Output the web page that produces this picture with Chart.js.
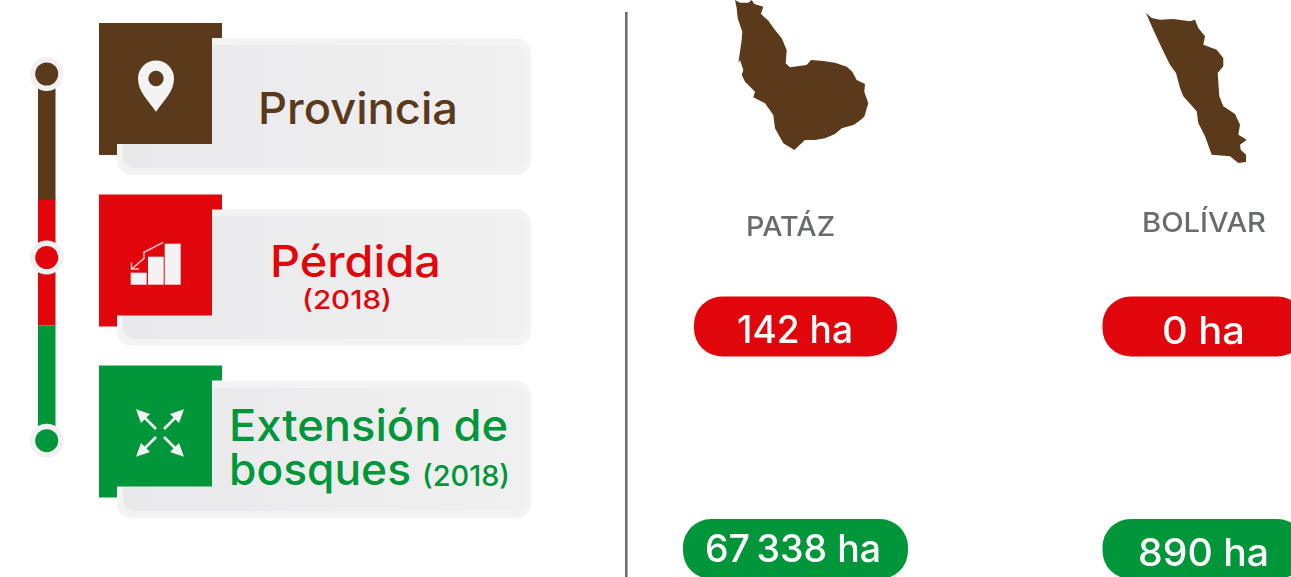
<!DOCTYPE html>
<html lang="es">
<head>
<meta charset="utf-8">
<title>Pérdida y extensión de bosques por provincia</title>
<script src="https://cdn.jsdelivr.net/npm/chart.js@4"></script>
<style>
    html, body { margin: 0; padding: 0; background: #fff; overflow: hidden; }
    #wrap { position: relative; width: 1291px; height: 577px; }
    #wrap svg, #wrap canvas { position: absolute; left: 0; top: 0; }
    svg text { font-family: Inter, "Noto Sans", sans-serif; font-weight: 550; }
</style>
</head>
<body>
<div id="wrap">
    <svg width="1291" height="577" viewBox="0 0 1291 577" xmlns="http://www.w3.org/2000/svg">
        <defs>
            <linearGradient id="fondoTarjeta" x1="0" y1="0" x2="1" y2="0">
                <stop offset="0" stop-color="#e9e8ea"/>
                <stop offset="1" stop-color="#f1f0f1"/>
            </linearGradient>
            <g id="tarjeta">
                <rect x="117" y="38" width="414" height="137" rx="15" fill="#f3f3f4"/>
                <rect x="123" y="45" width="402" height="123" rx="11" fill="url(#fondoTarjeta)"/>
            </g>
            <path id="bandera" d="M99 23H222V38H212V144H117V155H99Z"/>
            <g id="flecha" fill="#f3f3f4">
                <path d="M136 409.3L150 414L141 423Z"/>
                <path d="M144 417L156 429" stroke="#f3f3f4" stroke-width="2.6" fill="none"/>
            </g>
        </defs>

        <!-- barra lateral -->
        <rect x="38" y="74" width="17.5" height="126" fill="#5a3a1b"/>
        <rect x="38" y="199.6" width="17.5" height="126" fill="#e1060c"/>
        <rect x="38" y="325.6" width="17.5" height="115" fill="#009639"/>
        <circle cx="46.7" cy="74" r="17" fill="#f1f1f2"/>
        <circle cx="46.7" cy="74" r="11.5" fill="#5a3a1b"/>
        <circle cx="46.7" cy="257.5" r="17" fill="#f1f1f2"/>
        <circle cx="46.7" cy="257.5" r="11.5" fill="#e1060c"/>
        <circle cx="46.7" cy="440.7" r="17" fill="#f1f1f2"/>
        <circle cx="46.7" cy="440.7" r="11.5" fill="#009639"/>

        <!-- leyenda -->
        <use href="#tarjeta"/>
        <use href="#tarjeta" y="171"/>
        <use href="#tarjeta" y="343"/>
        <use href="#bandera" fill="#5a3a1b"/>
        <use href="#bandera" y="171.5" fill="#e1060c"/>
        <use href="#bandera" y="342.5" fill="#009639"/>

        <path d="M156 111.7C148 100 138 92 138 78.5A18 18 0 0 1 174 78.5C174 92 164 100 156 111.7Z" fill="#f3f3f4"/>
        <circle cx="156" cy="78.5" r="7.7" fill="#5a3a1b"/>

        <g fill="#f3f3f4">
            <rect x="130.7" y="272.7" width="16" height="12"/>
            <rect x="148" y="256.7" width="15.7" height="28"/>
            <rect x="164.7" y="243.7" width="16" height="41"/>
        </g>
        <path d="M163.3 242.3L144 252.3V258.3L131.7 269M131.5 262.5V269H139" stroke="#f6c3c4" stroke-width="1.5" fill="none"/>

        <use href="#flecha"/>
        <use href="#flecha" transform="translate(320 0) scale(-1 1)"/>
        <use href="#flecha" transform="translate(0 866) scale(1 -1)"/>
        <use href="#flecha" transform="translate(320 866) scale(-1 -1)"/>

        <text x="258" y="123.5" font-size="44" fill="#5a3a1b" textLength="200" lengthAdjust="spacingAndGlyphs">Provincia</text>
        <text x="270" y="277" font-size="44" fill="#e1060c" textLength="171" lengthAdjust="spacingAndGlyphs">Pérdida</text>
        <text x="302" y="309" font-size="26" fill="#e1060c" style="font-weight:500" textLength="90" lengthAdjust="spacingAndGlyphs">(2018)</text>
        <text x="229" y="441" font-size="44" fill="#009639" textLength="279" lengthAdjust="spacingAndGlyphs">Extensión de</text>
        <text x="229" y="485" font-size="44" fill="#009639" textLength="182" lengthAdjust="spacingAndGlyphs">bosques</text>
        <text x="422" y="486" font-size="28" fill="#009639" style="font-weight:500" textLength="88" lengthAdjust="spacingAndGlyphs">(2018)</text>

        <!-- separador -->
        <rect x="625" y="12" width="2.6" height="565" fill="#6d6e71"/>

        <!-- siluetas -->
        <path fill="#5a3a1b" d="M735 0L740 2.7L748.3 2.7L751.7 0L754.3 4L763.3 6.7L761 14L768.3 20.7L775 30L781.7 38.3L786.7 50L785.7 63.3L790 67.3L806.7 65L811 60L823.3 61L835 62.7L846.7 66.7L852.3 71.7L856.7 80L865 84L864.3 91.7L868.3 103.3L864.3 116.7L858.3 121.7L853.3 125L841.7 128.3L835 134L825 138.3L815 140L805 140L794.3 150L783.3 143.3L775 128.3L773.3 115L765 103.3L753.3 97.3L755 91.7L745 81.7L741.7 75L743.3 70L740 60L738.3 63.3L741.7 40L742.3 31.7L737.7 18.3L736.7 8.3Z"/>
        <path fill="#5a3a1b" d="M1146 13L1151.7 18L1160 19.7L1173.3 19L1190 21.3L1195 19.7L1198.3 28L1205 36.3L1203.3 44.7L1216.7 49.7L1223.3 58L1223.3 66.3L1217.7 73L1219.3 96.3L1223.3 106.3L1235 114L1240 124.7L1238.3 134.7L1246.7 139.7L1240 144.7L1240.7 149.7L1246 154.7L1246 162L1238.3 163L1230 156.3L1211.7 154.7L1205 136.3L1198.3 123L1196.7 111.3L1183.3 96.3L1180 88L1176 73L1170 64.7L1163.3 51.3L1153.3 29.7Z"/>
    </svg>
    <canvas id="grafico" width="1291" height="577"></canvas>
</div>

<script>
// datos
const provincias = ['PATÁZ', 'BOLÍVAR'];
const filas = ['Pérdida (2018)', 'Extensión de bosques (2018)'];
const perdidaHa = [142, 0];
const extensionHa = [67338, 890];

const colorFilas = ['#e1060c', '#009639'];
// medidas de las píldoras y ajustes finos del texto, por fila y provincia
const anchoPildora = [[203, 203], [225, 203]];
const anchoValor = [[116, 83], [176, 131]];
const ajusteValorX = [[-0.5, -0.5], [-2.5, -0.5]];
const ajusteValorY = [[16.5, 17.5], [12.5, 16.5]];
const anchoNombre = [89, 124];
const ajusteNombre = [[-5, -90.5], [0, -94.8]];

function formatoHa(valor) {
    return String(valor).replace(/\B(?=(\d{3})+$)/g, '\u2009') + ' ha';
}

// texto centrado en x y estirado hasta el ancho pedido
function textoAjustado(ctx, texto, x, y, ancho) {
    ctx.save();
    ctx.translate(x, y);
    ctx.scale(ancho / ctx.measureText(texto).width, 1);
    ctx.fillText(texto, 0, 0);
    ctx.restore();
}

// dibuja las píldoras y los nombres en las posiciones que dan las escalas
const pildoras = {
    id: 'pildoras',
    afterDatasetsDraw(chart) {
        const ctx = chart.ctx;
        ctx.save();
        ctx.textAlign = 'center';
        ctx.textBaseline = 'alphabetic';

        chart.data.datasets.forEach((dataset, f) => {
            chart.getDatasetMeta(f).data.forEach((punto, i) => {
                const ancho = anchoPildora[f][i];
                ctx.fillStyle = colorFilas[f];
                ctx.beginPath();
                ctx.roundRect(punto.x - ancho / 2, punto.y - 30, ancho, 60, 28);
                ctx.fill();

                ctx.fillStyle = '#ffffff';
                ctx.font = '550 38px Inter, "Noto Sans", sans-serif';
                textoAjustado(ctx, formatoHa(dataset.data[i].ha), punto.x + ajusteValorX[f][i], punto.y + ajusteValorY[f][i], anchoValor[f][i]);
            });
        });

        ctx.fillStyle = '#6a6b6e';
        ctx.font = '550 27.5px Inter, "Noto Sans", sans-serif';
        provincias.forEach((nombre, i) => {
            const x = chart.scales.x.getPixelForValue(i) + ajusteNombre[i][0];
            const y = chart.scales.y.getPixelForValue(0) + ajusteNombre[i][1];
            textoAjustado(ctx, nombre, x, y, anchoNombre[i]);
        });
        ctx.restore();
    }
};

new Chart(document.getElementById('grafico').getContext('2d'), {
    type: 'scatter',
    data: {
        datasets: [
            {
                label: filas[0],
                data: provincias.map((p, i) => ({ x: p, y: filas[0], ha: perdidaHa[i] })),
                pointRadius: 0
            },
            {
                label: filas[1],
                data: provincias.map((p, i) => ({ x: p, y: filas[1], ha: extensionHa[i] })),
                pointRadius: 0
            }
        ]
    },
    options: {
        responsive: false,
        animation: false,
        layout: {
            padding: { left: 795.5, right: 87, top: 326.5, bottom: 28 }
        },
        plugins: {
            legend: { display: false },
            title: { display: false },
            tooltip: { enabled: false }
        },
        scales: {
            x: { type: 'category', labels: provincias, offset: false, display: false },
            y: { type: 'category', labels: filas, offset: false, display: false }
        }
    },
    plugins: [pildoras]
});
</script>
</body>
</html>
